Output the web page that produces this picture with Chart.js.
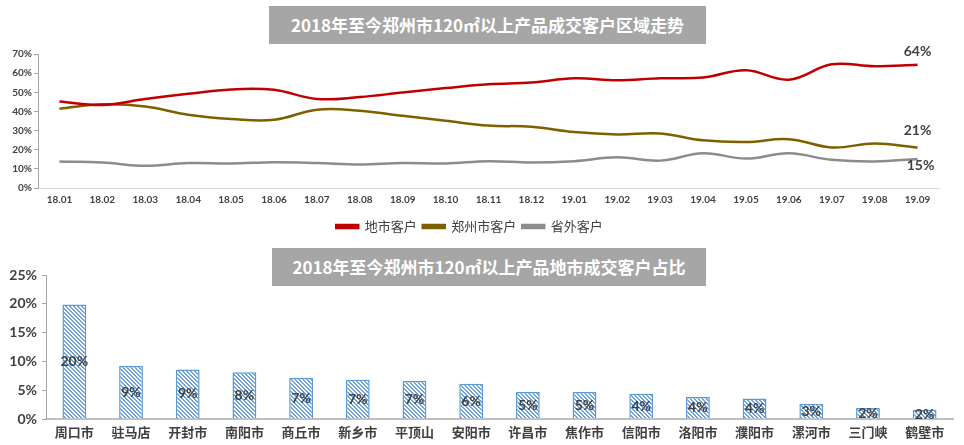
<!DOCTYPE html>
<html>
<head>
<meta charset="utf-8">
<script src="https://cdn.jsdelivr.net/npm/chart.js@4.4.1/dist/chart.umd.min.js"></script>
<style>
  html, body { margin: 0; padding: 0; background: #fff; }
  body { width: 964px; height: 445px; position: relative; overflow: hidden; }
  .title {
    position: absolute; left: 269px; width: 437px; height: 38px;
    background: #a6a6a6; color: #fff; text-align: center; line-height: 38px;
    font-family: "Noto Sans CJK SC", "Noto Sans", sans-serif; font-weight: bold; font-size: 17px;
  }
  #lineWrap { position: absolute; left: 0; top: 0; width: 964px; height: 245px; }
  #barWrap { position: absolute; left: 0; top: 245px; width: 964px; height: 200px; }
</style>
</head>
<body>
<div id="lineWrap"><canvas id="lineChart"></canvas></div>
<div id="barWrap"><canvas id="barChart"></canvas></div>
<div class="title" style="top:6px;">2018年至今郑州市120㎡以上产品成交客户区域走势</div>
<div class="title" style="top:248px;left:272px;width:434px;">2018年至今郑州市120㎡以上产品地市成交客户占比</div>
<script>
const months = ["18.01", "18.02", "18.03", "18.04", "18.05", "18.06", "18.07", "18.08", "18.09", "18.10", "18.11",
  "18.12", "19.01", "19.02", "19.03", "19.04", "19.05", "19.06", "19.07", "19.08", "19.09"];
const cityClients = [45.2, 43.4, 46.5, 49.2, 51.5, 51.3, 46.5, 47.5, 49.9, 52.2, 54.2,
  55.1, 57.3, 56.3, 57.3, 57.7, 61.5, 56.6, 64.6, 63.6, 64.4];
const zhengzhouClients = [41.4, 43.7, 42.6, 38.3, 36.1, 35.6, 40.9, 40.4, 37.7, 35.1, 32.6,
  32.0, 29.2, 28.0, 28.5, 24.9, 24.0, 25.5, 21.2, 23.2, 21.1];
const outsideClients = [13.8, 13.3, 11.6, 13.0, 12.8, 13.5, 13.1, 12.3, 13.1, 12.8, 14.0,
  13.3, 14.0, 16.0, 14.3, 18.1, 15.4, 18.1, 14.7, 13.8, 15.2];
const lineTicks = [0, 10, 20, 30, 40, 50, 60, 70];

const cities = ["周口市", "驻马店", "开封市", "南阳市", "商丘市", "新乡市", "平顶山", "安阳市",
  "许昌市", "焦作市", "信阳市", "洛阳市", "濮阳市", "漯河市", "三门峡", "鹤壁市"];
const cityShare = [19.9, 9.2, 8.6, 8.1, 7.1, 6.8, 6.6, 6.1, 4.7, 4.7, 4.4, 3.8, 3.55, 2.6, 1.9, 1.6];
const barTicks = [0, 5, 10, 15, 20, 25];

const numFont = "Lato, 'Noto Sans', sans-serif";
const cnFont = "'Noto Sans CJK SC', 'Noto Sans', sans-serif";

// hatch pattern for the bars
const pc = document.createElement("canvas");
pc.width = 4; pc.height = 4;
const pctx = pc.getContext("2d");
pctx.fillStyle = "#ffffff";
pctx.fillRect(0, 0, 4, 4);
pctx.fillStyle = "#6fa3dc";
for (let i = 0; i < 4; i++) { pctx.fillRect(i, i, 1, 1); pctx.fillRect((i + 1) % 4, i, 1, 1); }
const hatch = pctx.createPattern(pc, "repeat");

// last value labels on the lines
const endLabels = {
  id: "endLabels",
  afterDatasetsDraw(chart) {
    const ctx = chart.ctx;
    const offsets = [-13, -17, 7];
    const dx = [0, 0, 3];
    ctx.save();
    ctx.font = "bold 14px " + numFont;
    ctx.fillStyle = "#404040";
    ctx.textAlign = "center";
    ctx.textBaseline = "middle";
    chart.data.datasets.forEach((ds, i) => {
      const pts = chart.getDatasetMeta(i).data;
      const p = pts[pts.length - 1];
      ctx.fillText(Math.round(ds.data[ds.data.length - 1]) + "%", p.x + dx[i], p.y + offsets[i]);
    });
    ctx.restore();
  },
};

// value labels in the middle of each bar
const barLabels = {
  id: "barLabels",
  afterDatasetsDraw(chart) {
    const ctx = chart.ctx;
    ctx.save();
    ctx.font = "bold 14px " + numFont;
    ctx.fillStyle = "#404040";
    ctx.textAlign = "center";
    ctx.textBaseline = "middle";
    const ds = chart.data.datasets[0];
    chart.getDatasetMeta(0).data.forEach((bar, i) => {
      ctx.fillText(Math.round(ds.data[i]) + "%", bar.x, (bar.y + bar.base) / 2);
    });
    ctx.restore();
  },
};

new Chart(document.getElementById("lineChart"), {
  type: "line",
  data: {
    labels: months,
    datasets: [
      { label: "地市客户", data: cityClients, borderColor: "#c00000", backgroundColor: "#c00000" },
      { label: "郑州市客户", data: zhengzhouClients, borderColor: "#7f6000", backgroundColor: "#7f6000" },
      { label: "省外客户", data: outsideClients, borderColor: "#8c8c8c", backgroundColor: "#8c8c8c" },
    ],
  },
  options: {
    responsive: true,
    maintainAspectRatio: false,
    animation: false,
    layout: { padding: { top: 54, right: 25, bottom: 2, left: 0 } },
    elements: {
      line: { borderWidth: 2.5, tension: 0.4 },
      point: { radius: 0 },
    },
    plugins: {
      legend: {
        position: "bottom",
        labels: {
          font: { family: cnFont, size: 13 },
          color: "#404040",
          boxWidth: 22,
          boxHeight: 3,
          padding: 6,
        },
      },
      tooltip: { enabled: false },
    },
    scales: {
      x: {
        offset: true,
        afterFit: (s) => { s.height = 26; },
        grid: { display: false, drawTicks: false },
        border: { color: "#d9d9d9" },
        ticks: { font: { family: numFont, size: 10, weight: "bold" }, color: "#404040", padding: 6, maxRotation: 0 },
      },
      y: {
        min: 0,
        max: 70,
        afterFit: (s) => { s.width = 38; },
        afterBuildTicks: (s) => { s.ticks = lineTicks.map((v) => ({ value: v })); },
        grid: { drawOnChartArea: false, tickLength: 4, color: "#a6a6a6" },
        border: { color: "#a6a6a6" },
        ticks: {
          font: { family: numFont, size: 10, weight: "bold" },
          color: "#404040",
          padding: 2,
          callback: (v) => v + "%",
        },
      },
    },
  },
  plugins: [endLabels],
});

new Chart(document.getElementById("barChart"), {
  type: "bar",
  data: {
    labels: cities,
    datasets: [
      {
        label: "占比",
        data: cityShare,
        backgroundColor: hatch,
        borderColor: "#5b9bd5",
        borderWidth: 1.5,
        barPercentage: 0.42,
        categoryPercentage: 1,
      },
    ],
  },
  options: {
    responsive: true,
    maintainAspectRatio: false,
    animation: false,
    layout: { padding: { top: 30, right: 11, bottom: 0, left: 0 } },
    plugins: { legend: { display: false }, tooltip: { enabled: false } },
    scales: {
      x: {
        afterFit: (s) => { s.height = 26; },
        grid: { display: false, drawTicks: false },
        border: { color: "#bfbfbf", width: 2 },
        ticks: { font: { family: cnFont, size: 13, weight: "bold" }, color: "#404040", padding: 5, maxRotation: 0 },
      },
      y: {
        min: 0,
        max: 25,
        afterFit: (s) => { s.width = 46; },
        afterBuildTicks: (s) => { s.ticks = barTicks.map((v) => ({ value: v })); },
        grid: { drawOnChartArea: false, tickLength: 4, color: "#a6a6a6" },
        border: { color: "#a6a6a6" },
        ticks: {
          font: { family: numFont, size: 14, weight: "bold" },
          color: "#404040",
          padding: 5,
          callback: (v) => v + "%",
        },
      },
    },
  },
  plugins: [barLabels],
});
</script>
</body>
</html>
